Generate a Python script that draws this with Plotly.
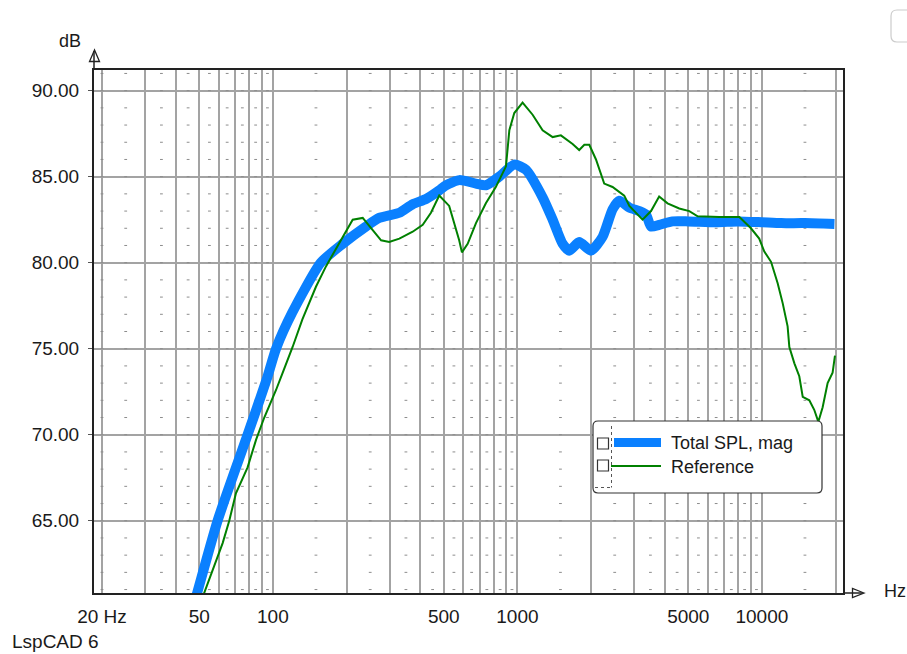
import numpy as np
import plotly.graph_objects as go

# ---------------- data ----------------
spl_freq = [47, 49, 59.4, 78.8, 94.2, 103, 120, 157, 193, 240, 272, 329, 373, 423, 479, 510,
            579, 677, 743, 843, 971, 1084, 1268, 1394, 1531, 1630, 1790, 2000, 2230, 2450,
            2610, 2870, 3156, 3360, 3518, 3800, 4312, 5000, 6500, 8000, 10000, 12000, 15000, 19800]
spl_db = [59.9, 60.8, 65.0, 70.0, 73.2, 75.0, 77.1, 80.0, 81.1, 82.1, 82.6, 82.9, 83.4, 83.7, 84.2, 84.5,
          84.8, 84.6, 84.5, 85.0, 85.7, 85.4, 83.8, 82.5, 81.1, 80.7, 81.2, 80.7, 81.5, 83.1,
          83.6, 83.2, 83.0, 82.8, 82.1, 82.2, 82.4, 82.4, 82.35, 82.4, 82.35, 82.3, 82.3, 82.25]

ref_freq = [50.5, 52.4, 62.3, 66.3, 70.6, 78.8, 85.3, 92.2, 98.2, 103, 109.6, 120.4, 132, 150, 165,
            193, 212, 233, 256, 277, 299, 329, 373, 410, 443, 479, 526, 552, 578, 593, 626, 677,
            743, 816, 898, 927, 971, 1050, 1154, 1268, 1394, 1506, 1682, 1790, 1878, 1968, 2096,
            2265, 2450, 2735, 2870, 3250, 3520, 3800, 4112, 4592, 5048, 5460, 6700, 8090, 9020,
            9750, 10230, 10900, 11600, 12160, 12740, 12950, 13580, 14220, 14690, 15630, 16370,
            17020, 17720, 18570, 19460, 19900]
ref_db = [60.2, 60.8, 63.7, 65.0, 66.6, 68.1, 69.7, 71.0, 71.9, 72.6, 73.6, 75.1, 76.7, 78.6, 79.8,
          81.5, 82.5, 82.6, 81.9, 81.3, 81.2, 81.4, 81.8, 82.2, 82.9, 83.9, 83.3, 82.3, 81.3, 80.6,
          81.1, 82.3, 83.45, 84.4, 85.6, 87.7, 88.7, 89.3, 88.6, 87.7, 87.3, 87.4, 86.9, 86.55,
          86.85, 86.85, 86.0, 84.6, 84.4, 83.9, 83.3, 82.5, 83.0, 83.85, 83.45, 83.15, 83.0, 82.7,
          82.65, 82.65, 82.0, 81.4, 80.65, 80.05, 78.8, 77.65, 76.3, 75.1, 74.15, 73.4, 72.2, 72.0,
          71.45, 70.75, 71.6, 73.0, 73.6, 74.6]

x_labels = {20: "20 Hz", 50: "50", 100: "100", 500: "500", 1000: "1000", 5000: "5000", 10000: "10000"}
y_ticks = [65, 70, 75, 80, 85, 90]
series_names = ["Total SPL, mag", "Reference"]

# ---------------- geometry ----------------
W, H = 907, 654
L, R, T, B = 94, 843, 70, 593
x_range = [1.2683, 4.3317]
y_range = [60.8, 91.2]

def px(x):
    return (x - L) / (R - L)

def py(y):
    return (B - y) / (B - T)

major_x = [m * 10 ** k for k in range(1, 5) for m in range(1, 10) if 20 <= m * 10 ** k <= 20000]
minor_x = [20] + [m * 10 ** k for k in range(1, 5) for m in np.arange(1.5, 10, 1.0)
                  if 10 ** x_range[0] <= m * 10 ** k <= 10 ** x_range[1]]
minor_y = list(range(61, 92))

dot_x, dot_y = [], []
for fx in minor_x:
    for fy in minor_y:
        dot_x.append(fx)
        dot_y.append(fy)

fig = go.Figure()
fig.add_trace(go.Scatter(x=dot_x, y=dot_y, mode="markers", hoverinfo="skip",
                         marker=dict(symbol="line-ew", size=2, color="#8c8c8c",
                                     line=dict(color="#8c8c8c", width=1)),
                         showlegend=False))
fig.add_trace(go.Scatter(x=spl_freq, y=spl_db, mode="lines", name=series_names[0],
                         line=dict(color="#0a80ff", width=10, shape="spline", smoothing=0.6),
                         showlegend=False))
fig.add_trace(go.Scatter(x=ref_freq, y=ref_db, mode="lines", name=series_names[1],
                         line=dict(color="#008000", width=2), showlegend=False))

font = "Liberation Sans, Arial, sans-serif"
txt = "#1a1a1a"
fs = 19

fig.update_xaxes(type="log", range=x_range, tickvals=major_x,
                 ticktext=[x_labels.get(v, "") for v in major_x],
                 showgrid=True, gridcolor="#a3a3a3", gridwidth=1.5,
                 showline=True, linecolor="#222222", linewidth=2, mirror=True,
                 ticks="", ticklabelstandoff=5, zeroline=False,
                 tickfont=dict(family=font, size=fs, color=txt))
fig.update_yaxes(range=y_range, tickvals=y_ticks, tickformat=".2f",
                 showgrid=True, gridcolor="#a3a3a3", gridwidth=1.5,
                 showline=True, linecolor="#222222", linewidth=2, mirror=True,
                 ticks="outside", ticklen=4, tickcolor="#555555", ticklabelstandoff=5,
                 zeroline=False, tickfont=dict(family=font, size=fs, color=txt))

shapes = []
# axis extensions and arrows
shapes.append(dict(type="line", xref="paper", yref="paper", x0=px(94), y0=py(70), x1=px(94), y1=py(51),
                   line=dict(color="#222222", width=1.5)))
shapes.append(dict(type="path", xref="paper", yref="paper",
                   path=f"M {px(94.5)},{py(50)} L {px(89.5)},{py(61.5)} L {px(99.5)},{py(61.5)} Z",
                   line=dict(color="#222222", width=1.3)))
shapes.append(dict(type="line", xref="paper", yref="paper", x0=px(843), y0=py(593), x1=px(863), y1=py(593),
                   line=dict(color="#222222", width=1.5)))
shapes.append(dict(type="path", xref="paper", yref="paper",
                   path=f"M {px(864)},{py(593)} L {px(852.5)},{py(588.5)} L {px(852.5)},{py(597.5)} Z",
                   line=dict(color="#222222", width=1.3)))

def rrect(x0, y0, x1, y1, r):
    pts = [("M", x0 + r, y0), ("L", x1 - r, y0), ("Q", x1, y0, x1, y0 + r), ("L", x1, y1 - r),
           ("Q", x1, y1, x1 - r, y1), ("L", x0 + r, y1), ("Q", x0, y1, x0, y1 - r), ("L", x0, y0 + r),
           ("Q", x0, y0, x0 + r, y0)]
    s = ""
    for p in pts:
        if p[0] == "Q":
            s += f"Q {px(p[1])},{py(p[2])} {px(p[3])},{py(p[4])} "
        else:
            s += f"{p[0]} {px(p[1])},{py(p[2])} "
    return s + "Z"

# legend box
shapes.append(dict(type="path", xref="paper", yref="paper", path=rrect(593, 421, 822, 493, 5),
                   line=dict(color="#333333", width=1.2), fillcolor="white", layer="above"))
# dotted lines in legend
shapes.append(dict(type="line", xref="paper", yref="paper", x0=px(611.5), y0=py(426), x1=px(611.5), y1=py(487.5),
                   line=dict(color="#555555", width=1, dash="dot"), layer="above"))
shapes.append(dict(type="line", xref="paper", yref="paper", x0=px(595), y0=py(487.5), x1=px(611.5), y1=py(487.5),
                   line=dict(color="#555555", width=1, dash="dot"), layer="above"))
# checkboxes
for yc in (443.5, 465.5):
    shapes.append(dict(type="rect", xref="paper", yref="paper", x0=px(597.5), y0=py(yc - 5.5),
                       x1=px(608.5), y1=py(yc + 5.5), line=dict(color="#333333", width=1.2),
                       fillcolor="white", layer="above"))
# legend samples
shapes.append(dict(type="line", xref="paper", yref="paper", x0=px(614), y0=py(442.5), x1=px(661), y1=py(442.5),
                   line=dict(color="#0a80ff", width=9), layer="above"))
shapes.append(dict(type="line", xref="paper", yref="paper", x0=px(611), y0=py(466), x1=px(661), y1=py(466),
                   line=dict(color="#008000", width=2), layer="above"))
# UI button fragment top-right
shapes.append(dict(type="path", xref="paper", yref="paper", path=rrect(891, 10, 918, 42, 6),
                   line=dict(color="#cccccc", width=1.2)))

annotations = [
    dict(text=series_names[0], x=px(669), y=py(442.5), xanchor="left", yanchor="middle"),
    dict(text=series_names[1], x=px(669), y=py(466.5), xanchor="left", yanchor="middle"),
    dict(text="dB", x=px(83), y=py(40.5), xanchor="right", yanchor="middle"),
    dict(text="Hz", x=px(882), y=py(591), xanchor="left", yanchor="middle"),
    dict(text="LspCAD 6", x=px(10), y=py(641), xanchor="left", yanchor="middle"),
]
for a in annotations:
    a.update(xref="paper", yref="paper", showarrow=False, font=dict(family=font, size=18, color=txt))
annotations[4]["font"] = dict(family=font, size=fs, color=txt)

fig.update_layout(width=W, height=H, margin=dict(l=L, r=W - R, t=T, b=H - B, pad=0),
                  paper_bgcolor="white", plot_bgcolor="white", shapes=shapes,
                  annotations=annotations, showlegend=False)

fig.write_html("out.html")
